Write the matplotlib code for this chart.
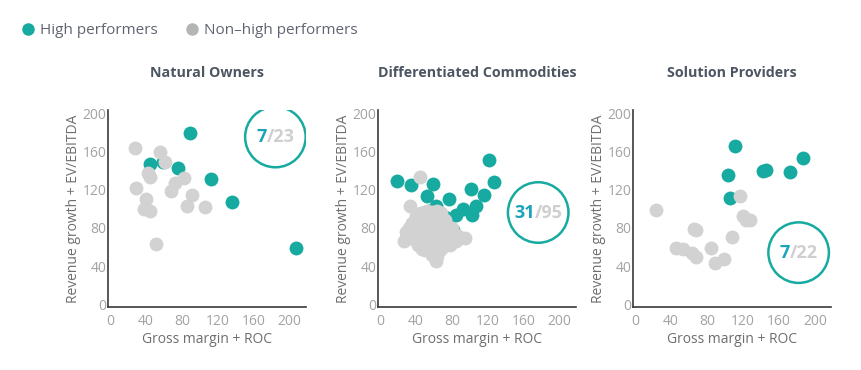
import matplotlib
matplotlib.use("Agg")
import matplotlib.pyplot as plt
from matplotlib.lines import Line2D
from matplotlib.offsetbox import TextArea, HPacker, AnnotationBbox

plt.rcParams['font.family'] = ['Open Sans', 'DejaVu Sans']

TEAL = "#17aaa0"
TEAL_TXT = "#1aa3bb"
GREY = "#d2d2d2"
TICK = "#a3a3a3"
LABEL = "#6e6e6e"
TITLE = "#4c5561"

titles = ["Natural Owners", "Differentiated Commodities", "Solution Providers"]
high_counts = ["7", "31", "7"]
total_counts = ["23", "95", "22"]

# Natural Owners
no_high_x = [89, 45, 59, 76, 112, 136, 207]
no_high_y = [179, 147, 149, 143, 131, 107, 59]
no_rest_x = [28, 56, 61, 42, 45, 29, 72, 68, 82, 40, 38, 45, 86, 91, 106, 51]
no_rest_y = [164, 159, 149, 137, 133, 122, 127, 118, 132, 110, 100, 98, 103, 114, 102, 63]

# Differentiated Commodities
dc_high_x = [19, 35, 59, 52, 77, 121, 127, 101, 116, 107, 92, 85, 103, 62,
             48, 55, 66, 72, 76, 81, 77]
dc_high_y = [129, 125, 126, 113, 110, 151, 128, 121, 114, 103, 100, 93, 93, 103,
             96, 98, 97, 91, 86, 78, 83]
dc_rest_x = [45, 34, 95, 29, 27, 62, 47,
             40, 46, 52, 58, 64, 68,
             36, 42, 48, 54, 60, 66, 72,
             33, 39, 45, 51, 57, 63, 69, 75, 80,
             35, 41, 47, 53, 59, 65, 71, 77, 83, 87,
             38, 44, 50, 56, 62, 68, 74, 80,
             42, 48, 54, 60, 66, 72, 78,
             50, 56, 62, 68, 58, 64, 55, 61, 70, 46, 30, 85]
dc_rest_y = [133, 103, 69, 76, 66, 45, 58,
             92, 96, 98, 97, 98, 95,
             85, 86, 88, 90, 91, 90, 88,
             80, 79, 81, 83, 84, 84, 83, 82, 80,
             73, 74, 75, 77, 78, 77, 76, 75, 73, 71,
             68, 68, 70, 71, 71, 70, 69, 67,
             62, 63, 64, 65, 64, 63, 62,
             57, 58, 57, 58, 52, 51, 66, 60, 74, 72, 70, 66]

# Solution Providers
sp_high_x = [111, 187, 103, 142, 146, 172, 106]
sp_high_y = [166, 153, 135, 139, 141, 138, 111]
sp_rest_x = [24, 117, 120, 124, 128, 66, 68, 108, 46, 54, 63, 68, 85, 89, 99]
sp_rest_y = [99, 113, 92, 88, 88, 79, 78, 70, 59, 58, 54, 49, 59, 43, 47]

panels = [
    (no_high_x, no_high_y, no_rest_x, no_rest_y, (184, 175)),
    (dc_high_x, dc_high_y, dc_rest_x, dc_rest_y, (176, 96)),
    (sp_high_x, sp_high_y, sp_rest_x, sp_rest_y, (182, 54)),
]

fig = plt.figure(figsize=(8.61, 3.70), dpi=100)
lefts = [0.1254, 0.4390, 0.7352]

for i, (hx, hy, rx, ry, badge) in enumerate(panels):
    ax = fig.add_axes([lefts[i], 0.170, 0.230, 0.532])
    ax.scatter(hx, hy, s=100, color=TEAL, linewidths=0, zorder=2)
    ax.scatter(rx, ry, s=100, color=GREY, linewidths=0, zorder=3)
    # badge circle
    ax.scatter([badge[0]], [badge[1]], s=1900, facecolors="none",
               edgecolors=TEAL, linewidths=1.8, zorder=4)
    parts = HPacker(children=[
        TextArea(high_counts[i], textprops=dict(color=TEAL_TXT, fontsize=13, fontweight="bold")),
        TextArea("/" + total_counts[i], textprops=dict(color="#cfcfcf", fontsize=13, fontweight="bold")),
    ], pad=0, sep=0, align="baseline")
    ab = AnnotationBbox(parts, badge, frameon=False, box_alignment=(0.5, 0.5), zorder=5)
    ax.add_artist(ab)

    ax.set_xlim(-2, 218)
    ax.set_ylim(-3, 203)
    ax.set_xticks([0, 40, 80, 120, 160, 200])
    ax.set_yticks([0, 40, 80, 120, 160, 200])
    ax.tick_params(length=0, labelsize=10, labelcolor=TICK)
    ax.tick_params(axis="x", pad=5)
    ax.tick_params(axis="y", pad=1)
    for s in ["top", "right"]:
        ax.spines[s].set_visible(False)
    for s in ["left", "bottom"]:
        ax.spines[s].set_color("#3a3a3a")
        ax.spines[s].set_linewidth(1.2)
    ax.set_xlabel("Gross margin + ROC", fontsize=10, color=LABEL, labelpad=2)
    ax.set_ylabel("Revenue growth + EV/EBITDA", fontsize=10, color=LABEL, labelpad=1)
    ax.set_title(titles[i], fontsize=10.3, fontweight="bold", color=TITLE, pad=24)

handles = [
    Line2D([], [], marker="o", linestyle="", markersize=8, color=TEAL, label="High performers"),
    Line2D([], [], marker="o", linestyle="", markersize=8, color="#b4b6b6", label="Non–high performers"),
]
fig.legend(handles=handles, loc="upper left", bbox_to_anchor=(0.008, 0.975), ncol=2,
           frameon=False, fontsize=11, handletextpad=0.3, columnspacing=1.7,
           labelcolor="#5f6570", handlelength=1.0)

fig.savefig("out.png", dpi=100)
